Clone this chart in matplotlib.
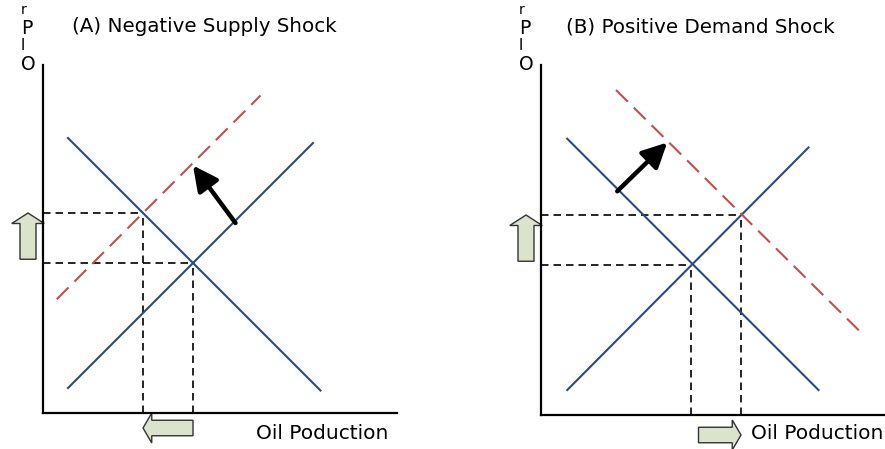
import matplotlib
matplotlib.use("Agg")
import matplotlib.pyplot as plt
import matplotlib.patches as mpatches

# ---- data (conceptual price / quantity units) ----
titles = ["(A) Negative Supply Shock", "(B) Positive Demand Shock"]
xlabel = "Oil Poduction"
ylabel_chars = ["O", "l", "P", "r"]

# Panel A
a_demand_q = [1.0, 11.1]
a_demand_p = [11.0, 0.9]
a_supply_q = [1.0, 10.8]
a_supply_p = [1.0, 10.8]
a_supply2_q = [0.55, 8.7]
a_supply2_p = [4.55, 12.7]
a_eq0 = (6.0, 6.0)
a_eq1 = (4.0, 8.0)
a_shift_from = (7.7, 7.6)
a_shift_to = (6.0, 9.9)

# Panel B
b_demand_q = [1.05, 11.1]
b_demand_p = [11.05, 1.0]
b_supply_q = [1.05, 10.7]
b_supply_p = [1.0, 10.7]
b_demand2_q = [3.0, 12.85]
b_demand2_p = [13.0, 3.25]
b_eq0 = (6.0, 6.0)
b_eq1 = (8.0, 8.0)
b_shift_from = (3.05, 8.95)
b_shift_to = (5.05, 10.9)

W, H = 885, 449
fig = plt.figure(figsize=(W / 100, H / 100), dpi=100)

BLUE = "#2b4a80"
RED = "#c0504d"
FILL = "#dce3cc"
EDGE = "#333333"
UNIT = 25.0  # px per unit


def make_axes(x0, y0, xmax, ymax):
    w = xmax * UNIT
    h = ymax * UNIT
    ax = fig.add_axes([x0 / W, (H - y0) / H, w / W, h / H])
    ax.set_xlim(0, xmax)
    ax.set_ylim(0, ymax)
    for s in ["top", "right"]:
        ax.spines[s].set_visible(False)
    for s in ["left", "bottom"]:
        ax.spines[s].set_linewidth(1.6)
        ax.spines[s].set_color("black")
    ax.set_xticks([])
    ax.set_yticks([])
    ax.patch.set_alpha(0)
    return ax


def guides(ax, eq):
    q, p = eq
    ax.plot([0, q], [p, p], color="black", lw=1.2, ls=(0, (4.5, 3)), clip_on=False)
    ax.plot([q, q], [0, p], color="black", lw=1.2, ls=(0, (4.5, 3)), clip_on=False)


def block_arrow(ax, x, y, dx, dy, width, head_width, head_length):
    arr = mpatches.FancyArrow(x, y, dx, dy, width=width, head_width=head_width,
                              head_length=head_length, length_includes_head=True,
                              facecolor=FILL, edgecolor=EDGE, lw=1.0, clip_on=False)
    ax.add_patch(arr)


def ylab(x0):
    # stacked y label characters
    fig.text((x0 + 28) / W, 1 - 65 / H, ylabel_chars[0], fontsize=13.5, ha="center", va="center")
    fig.text((x0 + 23) / W, 1 - 46 / H, ylabel_chars[1], fontsize=11, ha="center", va="center")
    fig.text((x0 + 27) / W, 1 - 28 / H, ylabel_chars[2], fontsize=13.5, ha="center", va="center")
    fig.text((x0 + 24) / W, 1 - 10 / H, ylabel_chars[3], fontsize=10, ha="center", va="center")


SHIFT_STYLE = dict(arrowstyle="-|>,head_length=1.5,head_width=0.75", color="black", lw=3.2,
                   shrinkA=0, shrinkB=0)

# ---------- Panel A ----------
axA = make_axes(43, 413, 14.16, 13.92)
guides(axA, a_eq1)
guides(axA, a_eq0)
axA.plot(a_demand_q, a_demand_p, color=BLUE, lw=1.5)
axA.plot(a_supply_q, a_supply_p, color=BLUE, lw=1.5)
axA.plot(a_supply2_q, a_supply2_p, color=RED, lw=1.5, ls=(0, (8, 4)))
axA.annotate("", xy=a_shift_to, xytext=a_shift_from, arrowprops=SHIFT_STYLE)
# price up arrow
block_arrow(axA, -0.6, 6.15, 0, 1.85, 0.64, 1.3, 0.42)
# quantity left arrow
block_arrow(axA, 6.0, -0.6, -2.0, 0, 0.62, 1.2, 0.35)
axA.text(13.8, -0.82, xlabel, fontsize=14.5, ha="right", va="center")
fig.text(72 / W, 1 - 27 / H, titles[0], fontsize=14.3, ha="left", va="center")
ylab(0)

# ---------- Panel B ----------
axB = make_axes(541, 415, 13.76, 14.0)
guides(axB, b_eq1)
guides(axB, b_eq0)
axB.plot(b_demand_q, b_demand_p, color=BLUE, lw=1.5)
axB.plot(b_supply_q, b_supply_p, color=BLUE, lw=1.5)
axB.plot(b_demand2_q, b_demand2_p, color=RED, lw=1.5, ls=(0, (8, 4)))
axB.annotate("", xy=b_shift_to, xytext=b_shift_from, arrowprops=SHIFT_STYLE)
block_arrow(axB, -0.6, 6.15, 0, 1.85, 0.64, 1.3, 0.42)
block_arrow(axB, 6.3, -0.8, 1.7, 0, 0.62, 1.2, 0.35)
axB.text(8.4, -0.75, xlabel, fontsize=14.5, ha="left", va="center")
fig.text(566 / W, 1 - 27 / H, titles[1], fontsize=14.3, ha="left", va="center")
ylab(498)

fig.savefig("out.png", dpi=100)
